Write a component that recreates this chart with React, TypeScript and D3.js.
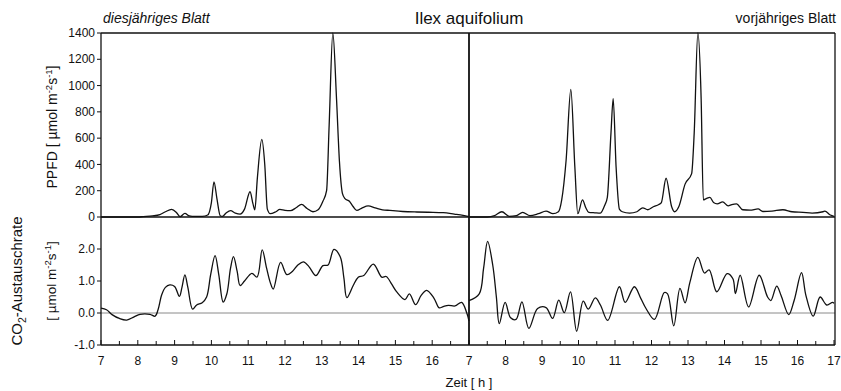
import React from "react";
import * as d3 from "d3";

const ppfdLeftT = [7.0, 7.5, 8.0, 8.15, 8.4, 8.6, 8.75, 8.92, 9.05, 9.15, 9.28, 9.4, 9.55, 9.75, 9.9, 10.0, 10.07, 10.15, 10.24, 10.3, 10.4, 10.52, 10.65, 10.78, 10.9, 11.05, 11.13, 11.18, 11.25, 11.37, 11.45, 11.52, 11.6, 11.75, 11.86, 12.0, 12.15, 12.3, 12.45, 12.6, 12.76, 12.9, 13.03, 13.13, 13.2, 13.3, 13.4, 13.48, 13.56, 13.63, 13.75, 13.85, 13.95, 14.1, 14.26, 14.45, 14.65, 14.85, 15.2, 15.58, 15.9, 16.3, 16.6, 16.84, 17.0];
const ppfdLeftV = [0, 0, 0, 3, 8, 18, 40, 58, 35, 3, 28, 8, 4, 5, 15, 110, 268, 140, 10, 5, 30, 48, 30, 22, 60, 192, 100, 55, 300, 590, 400, 60, 25, 40, 58, 50, 48, 70, 96, 65, 40, 55, 120, 200, 700, 1400, 900, 420, 180, 140, 120, 80, 50, 70, 84, 70, 55, 50, 42, 38, 36, 33, 22, 12, 2];

const ppfdRightT = [7.0, 7.5, 7.7, 7.9, 8.1, 8.3, 8.47, 8.67, 8.9, 9.11, 9.3, 9.45, 9.54, 9.66, 9.79, 9.9, 9.98, 10.11, 10.2, 10.28, 10.45, 10.6, 10.72, 10.79, 10.89, 10.95, 11.03, 11.12, 11.2, 11.4, 11.6, 11.76, 11.9, 12.05, 12.2, 12.27, 12.4, 12.55, 12.63, 12.75, 12.92, 13.1, 13.17, 13.27, 13.36, 13.42, 13.5, 13.6, 13.7, 13.8, 13.95, 14.1, 14.2, 14.33, 14.5, 14.7, 14.92, 15.05, 15.3, 15.6, 15.85, 16.15, 16.4, 16.7, 16.75, 16.9, 17.0];
const ppfdRightV = [0, 0, 10, 40, 5, 10, 35, 10, 25, 45, 25, 40, 130, 430, 970, 380, 25, 130, 70, 35, 32, 30, 90, 150, 640, 900, 380, 60, 40, 30, 40, 70, 55, 78, 95, 110, 295, 80, 40, 80, 250, 330, 640, 1400, 900, 130, 140, 150, 110, 100, 115, 85, 95, 100, 55, 52, 62, 42, 45, 55, 40, 35, 30, 40, 45, 15, 5];

const co2LeftT = [7.0, 7.15, 7.3, 7.5, 7.7, 7.9, 8.06, 8.33, 8.47, 8.55, 8.65, 8.75, 8.87, 9.0, 9.13, 9.2, 9.28, 9.36, 9.49, 9.6, 9.75, 9.87, 9.98, 10.1, 10.2, 10.32, 10.42, 10.52, 10.6, 10.7, 10.78, 10.9, 11.1, 11.24, 11.38, 11.5, 11.6, 11.68, 11.88, 12.05, 12.2, 12.35, 12.5, 12.65, 12.84, 13.03, 13.17, 13.33, 13.5, 13.6, 13.68, 13.85, 13.99, 14.14, 14.4, 14.63, 14.75, 14.9, 15.03, 15.26, 15.38, 15.55, 15.7, 15.85, 16.05, 16.19, 16.3, 16.44, 16.62, 16.8, 16.94, 17.0];
const co2LeftV = [0.15, 0.1, -0.05, -0.17, -0.22, -0.12, -0.04, -0.04, -0.1, 0.1, 0.57, 0.8, 0.88, 0.83, 0.52, 0.8, 1.19, 0.8, 0.12, 0.25, 0.32, 0.5, 1.2, 1.79, 1.2, 0.34, 0.6, 1.4, 1.76, 1.3, 0.86, 1.0, 1.24, 1.12, 1.97, 1.4, 0.95, 0.75, 1.58, 1.2, 1.3, 1.5, 1.6, 1.45, 1.17, 1.48, 1.5, 1.99, 1.76, 1.1, 0.48, 0.85, 1.12, 1.17, 1.53, 1.12, 1.14, 0.9, 0.67, 0.42, 0.6, 0.26, 0.55, 0.71, 0.46, 0.16, 0.2, 0.24, 0.22, 0.33, 0.0, -0.25];

const co2RightT = [7.0, 7.28, 7.4, 7.51, 7.65, 7.75, 7.83, 7.99, 8.14, 8.29, 8.45, 8.64, 8.88, 9.11, 9.29, 9.46, 9.61, 9.78, 9.95, 10.13, 10.27, 10.46, 10.6, 10.8, 11.12, 11.28, 11.53, 11.71, 11.85, 12.08, 12.35, 12.44, 12.61, 12.78, 12.92, 13.05, 13.27, 13.45, 13.58, 13.79, 14.07, 14.23, 14.3, 14.43, 14.66, 14.95, 15.18, 15.27, 15.43, 15.55, 15.76, 15.91, 16.11, 16.23, 16.43, 16.62, 16.8, 16.96, 17.0];
const co2RightV = [0.39, 0.6, 1.4, 2.24, 1.5, 0.5, -0.33, 0.33, -0.15, -0.2, 0.35, -0.48, 0.14, 0.17, -0.17, 0.4, 0.01, 0.66, -0.57, 0.37, 0.12, 0.47, 0.25, -0.23, 0.82, 0.33, 0.82, 0.45, 0.14, -0.2, 0.64, 0.6, -0.4, 0.77, 0.32, 0.95, 1.74, 1.25, 1.35, 0.66, 1.23, 1.07, 0.61, 1.18, 0.19, 1.18, 0.5, 0.39, 0.84, 0.55, -0.05, 0.4, 1.26, 0.55, -0.1, 0.5, 0.25, 0.33, 0.3];

const ppfdTicks = [0, 200, 400, 600, 800, 1000, 1200, 1400];
const co2Ticks = [-1, 0, 1, 2];
const hourTicks = [7, 8, 9, 10, 11, 12, 13, 14, 15, 16, 17];

const FONT = "'Liberation Sans', Arial, sans-serif";

export default function App() {
  const xL = d3.scaleLinear().domain([7, 17]).range([101, 469]);
  const xR = d3.scaleLinear().domain([7, 17]).range([469, 834]);
  const yTop = d3.scaleLinear().domain([0, 1400]).range([217, 33]);
  const yBot = d3.scaleLinear().domain([-1, 3]).range([345, 217]);

  const mk = (x: any, y: any, curve: any, T: number[], V: number[]) =>
    d3
      .line<number>()
      .x((_, i) => x(T[i]))
      .y((v) => y(v))
      .curve(curve)(V) || "";

  const pL = mk(xL, yTop, d3.curveMonotoneX, ppfdLeftT, ppfdLeftV);
  const pR = mk(xR, yTop, d3.curveMonotoneX, ppfdRightT, ppfdRightV);
  const cL = mk(xL, yBot, d3.curveCatmullRom.alpha(0.5), co2LeftT, co2LeftV);
  const cR = mk(xR, yBot, d3.curveCatmullRom.alpha(0.5), co2RightT, co2RightV);

  const halfTicks = d3.range(7, 17.01, 0.5);
  const left = xL(7);
  const right = xR(17) + 1;
  const mid = xL(17);
  const yBottom = yBot(-1);
  const yTopEdge = yTop(1400);

  const sup = (s: string) => (
    <tspan fontSize="9.5" dy="-5">{s}</tspan>
  );

  return (
    <svg
      width={841}
      height={391}
      style={{ position: "absolute", left: 0, top: 0, background: "#fff" }}
      fontFamily={FONT}
    >
      <rect x={0} y={0} width={841} height={391} fill="#fff" />
      <line x1={left} x2={right} y1={yBot(0)} y2={yBot(0)} stroke="#8a8a8a" strokeWidth={1} />

      <g fill="none" stroke="#111" strokeWidth={1.3} strokeLinejoin="round">
        <path d={pL} />
        <path d={pR} />
        <path d={cL} />
        <path d={cR} />
      </g>

      <g stroke="#111" strokeWidth={1.3} fill="none">
        <line x1={left} x2={right} y1={yTopEdge} y2={yTopEdge} />
        <line x1={left} x2={right} y1={yTop(0)} y2={yTop(0)} />
        <line x1={left} x2={right} y1={yBottom} y2={yBottom} />
        <line x1={left} x2={left} y1={yTopEdge} y2={yBottom} />
        <line x1={right} x2={right} y1={yTopEdge} y2={yBottom} />
        <line x1={mid} x2={mid} y1={yTopEdge} y2={yBottom} strokeWidth={1.8} />
      </g>

      <g stroke="#111" strokeWidth={1}>
        {ppfdTicks.map((t) => (
          <line key={"pt" + t} x1={left - 4} x2={left} y1={yTop(t)} y2={yTop(t)} />
        ))}
        {co2Ticks.map((t) => (
          <line key={"ct" + t} x1={left - 4} x2={left} y1={yBot(t)} y2={yBot(t)} />
        ))}
      </g>
      <g fontSize="12" textAnchor="end" fill="#111">
        {ppfdTicks.map((t) => (
          <text key={"pl" + t} x={left - 6} y={yTop(t)} dy="0.35em">{t}</text>
        ))}
        {co2Ticks.map((t) => (
          <text key={"cl" + t} x={left - 6} y={yBot(t)} dy="0.35em">{t.toFixed(1)}</text>
        ))}
      </g>

      <g stroke="#111" strokeWidth={1}>
        {halfTicks.map((t) => (
          <line key={"xl" + t} x1={xL(t)} x2={xL(t)} y1={yBottom} y2={yBottom - (Number.isInteger(t) ? 5 : 4)} />
        ))}
        {halfTicks.map((t) => (
          <line key={"xr" + t} x1={xR(t)} x2={xR(t)} y1={yBottom} y2={yBottom - (Number.isInteger(t) ? 5 : 4)} />
        ))}
      </g>
      <g fontSize="12" textAnchor="middle" fill="#111">
        {hourTicks.slice(0, 10).map((t) => (
          <text key={"xll" + t} x={xL(t)} y={365}>{t}</text>
        ))}
        {hourTicks.map((t) => (
          <text key={"xrl" + t} x={xR(t)} y={365}>{t}</text>
        ))}
      </g>

      <text x={469} y={24} fontSize="17" textAnchor="middle" fill="#111">Ilex aquifolium</text>
      <text x={103} y={23} fontSize="14" fontStyle="italic" fill="#111">diesjähriges Blatt</text>
      <text x={836} y={23} fontSize="14" textAnchor="end" fill="#111">vorjähriges Blatt</text>
      <text x={469} y={387} fontSize="13" textAnchor="middle" fill="#111">Zeit [ h ]</text>

      <text transform="translate(57,127) rotate(-90)" fontSize="14" textAnchor="middle" fill="#111">
        PPFD [ µmol m{sup("-2")}<tspan dy="5">s</tspan>{sup("-1")}<tspan dy="5">]</tspan>
      </text>
      <text transform="translate(22,281) rotate(-90)" fontSize="15" textAnchor="middle" fill="#111">
        CO<tspan fontSize="10.5" dy="4">2</tspan><tspan dy="-4">-Austauschrate</tspan>
      </text>
      <text transform="translate(56,281) rotate(-90)" fontSize="13.5" textAnchor="middle" fill="#111">
        [ µmol m{sup("-2")}<tspan dy="5">s</tspan>{sup("-1")}<tspan dy="5">]</tspan>
      </text>
    </svg>
  );
}
